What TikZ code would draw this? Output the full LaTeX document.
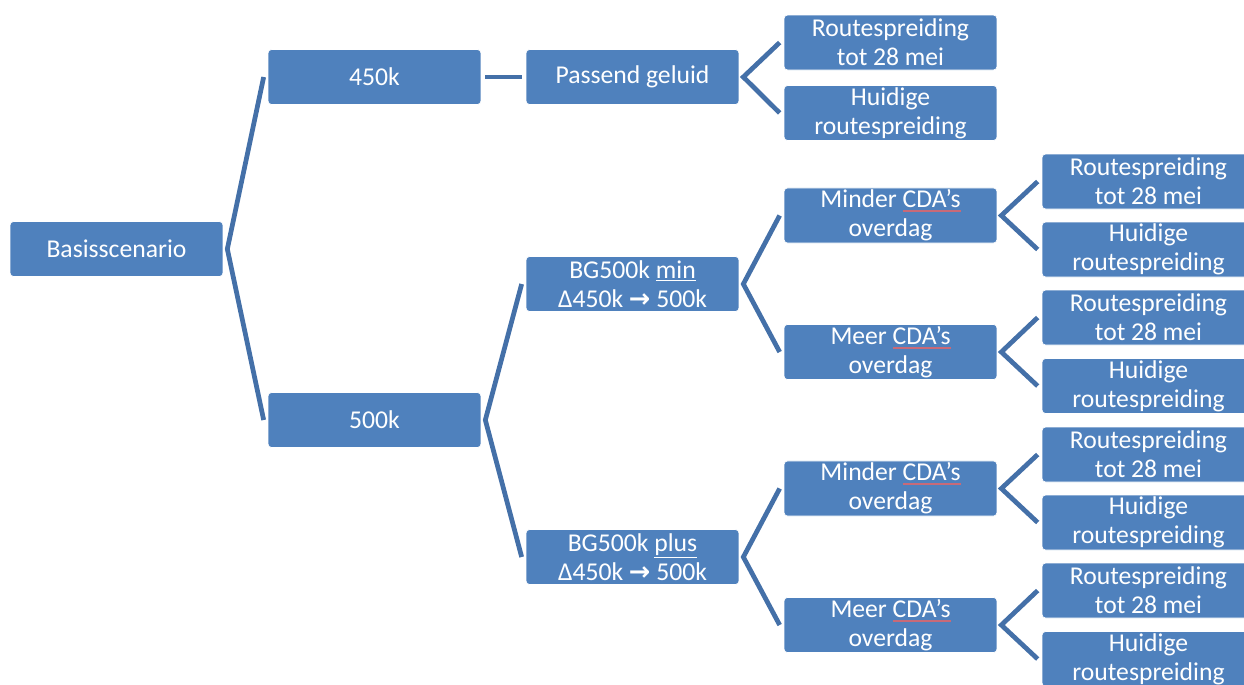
\documentclass[tikz,border=0pt]{standalone}
\usepackage{fontspec}
\setmainfont{Carlito}
\newfontfamily\arrowfont{DejaVu Sans}
\usepackage{xcolor}
\definecolor{Office Blue}{HTML}{4F81BD}
\definecolor{Link Blue}{HTML}{4470A8}
\definecolor{Spell Red}{HTML}{C86A78}
\colorlet{cBox}{Office Blue}
\colorlet{cLink}{Link Blue}
\usepackage{tikz}
\usetikzlibrary{positioning}
\tikzset{
	box/.style={
		draw=white,
		line width=.4pt,
		fill=cBox,
		text=white,
		rounded corners=2pt,
		minimum width=4.26cm,
		minimum height=1.1cm,
		inner sep=1pt,
		align=center
	},
	link/.style={
		draw=cLink,
		line width=2.7pt,
		line join=miter
	}
}
\newcommand\spell[1]{\setbox0\hbox{#1}\rlap{\textcolor{Spell Red}{\rule[-2.6pt]{\wd0}{1.1pt}}}#1}
\newcommand\stepup{Δ450k {\arrowfont\bfseries →} 500k}
\newcommand\branch[3]{\draw[link] ([xshift=-.08cm]#2.west) -- ([xshift=.08cm]#1.east) -- ([xshift=-.08cm]#3.west);}

\begin{document}
\begin{tikzpicture}[x=.02cm, y=-.02cm, font=\fontsize{14.6}{16.6}\selectfont]
		\path[use as bounding box, clip] (0,0) rectangle (1244,684);

		\node[box] at (116.5,249) (basis) {Basisscenario};

		\node[box] at (374.5,77) (k450) {450k};
		\node[box] at (374.5,420) (k500) {500k};

		\node[box] at (632.5,77) (geluid) {Passend geluid};
		\node[box] at (632.5,284) (bgmin) {BG500k \underline{min}\\\stepup};
		\node[box] at (632.5,557) (bgplus) {BG500k \underline{plus}\\\stepup};

		\node[box] at (890.5,42.5) (r0) {Routespreiding\\tot 28 mei};
		\node[box] at (890.5,113) (h0) {Huidige\\routespreiding};
		\node[box] at (890.5,215.5) (mi1) {Minder \spell{CDA’s}\\overdag};
		\node[box] at (890.5,352) (me1) {Meer \spell{CDA’s}\\overdag};
		\node[box] at (890.5,488.5) (mi2) {Minder \spell{CDA’s}\\overdag};
		\node[box] at (890.5,625) (me2) {Meer \spell{CDA’s}\\overdag};

		\node[box] at (1148.5,181.5) (r1) {Routespreiding\\tot 28 mei};
		\node[box] at (1148.5,249.5) (h1) {Huidige\\routespreiding};
		\node[box] at (1148.5,317.5) (r2) {Routespreiding\\tot 28 mei};
		\node[box] at (1148.5,386) (h2) {Huidige\\routespreiding};
		\node[box] at (1148.5,454.5) (r3) {Routespreiding\\tot 28 mei};
		\node[box] at (1148.5,522.5) (h3) {Huidige\\routespreiding};
		\node[box] at (1148.5,590.5) (r4) {Routespreiding\\tot 28 mei};
		\node[box] at (1148.5,659) (h4) {Huidige\\routespreiding};

		\branch{basis}{k450}{k500}
		\draw[link] ([xshift=.08cm]k450.east) -- ([xshift=-.08cm]geluid.west);
		\branch{geluid}{r0}{h0}
		\branch{k500}{bgmin}{bgplus}
		\branch{bgmin}{mi1}{me1}
		\branch{bgplus}{mi2}{me2}
		\branch{mi1}{r1}{h1}
		\branch{me1}{r2}{h2}
		\branch{mi2}{r3}{h3}
		\branch{me2}{r4}{h4}
	\end{tikzpicture}
\end{document}
